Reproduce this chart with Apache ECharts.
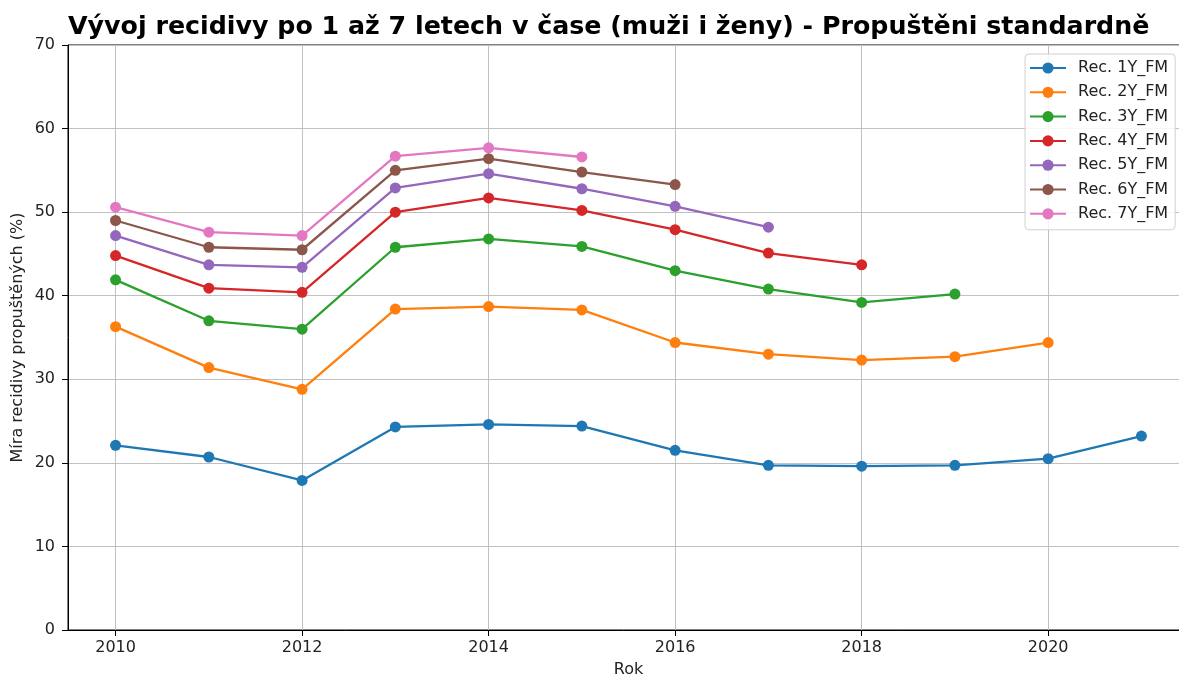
<!DOCTYPE html>
<html>
<head>
<meta charset="utf-8">
<script src="https://cdn.jsdelivr.net/npm/echarts@6/dist/echarts.min.js"></script>
<style>
html,body{margin:0;padding:0;background:#fff;}
#chart{width:1179px;height:677px;}
</style>
</head>
<body>
<div id="chart"></div>
<script>
const years = [2010, 2011, 2012, 2013, 2014, 2015, 2016, 2017, 2018, 2019, 2020, 2021];
const xTicks = [2010, 2012, 2014, 2016, 2018, 2020];
const seriesNames = ['Rec. 1Y_FM', 'Rec. 2Y_FM', 'Rec. 3Y_FM', 'Rec. 4Y_FM', 'Rec. 5Y_FM', 'Rec. 6Y_FM', 'Rec. 7Y_FM'];
const rec1Y = [22.1, 20.7, 17.9, 24.3, 24.6, 24.4, 21.5, 19.7, 19.6, 19.7, 20.5, 23.2];
const rec2Y = [36.3, 31.4, 28.8, 38.4, 38.7, 38.3, 34.4, 33.0, 32.3, 32.7, 34.4];
const rec3Y = [41.9, 37.0, 36.0, 45.8, 46.8, 45.9, 43.0, 40.8, 39.2, 40.2];
const rec4Y = [44.8, 40.9, 40.4, 50.0, 51.7, 50.2, 47.9, 45.1, 43.7];
const rec5Y = [47.2, 43.7, 43.4, 52.9, 54.6, 52.8, 50.7, 48.2];
const rec6Y = [49.0, 45.8, 45.5, 55.0, 56.4, 54.8, 53.3];
const rec7Y = [50.6, 47.6, 47.2, 56.7, 57.7, 56.6];
const colors = ['#1f77b4', '#ff7f0e', '#2ca02c', '#d62728', '#9467bd', '#8c564b', '#e377c2'];

const allValues = [rec1Y, rec2Y, rec3Y, rec4Y, rec5Y, rec6Y, rec7Y];
const FONT = 'DejaVu Sans';

const series = allValues.map((vals, i) => ({
  name: seriesNames[i],
  type: 'line',
  data: vals.map((v, j) => [years[j], v]),
  symbol: 'circle',
  symbolSize: 11,
  showSymbol: true,
  lineStyle: { width: 2.3, color: colors[i] },
  itemStyle: { color: colors[i] },
  emphasis: { disabled: true },
  animation: false
}));

const chart = echarts.init(document.getElementById('chart'), null, { renderer: 'canvas' });
chart.setOption({
  animation: false,
  backgroundColor: '#fff',
  color: colors,
  title: {
    text: 'Vývoj recidivy po 1 až 7 letech v čase (muži i ženy) - Propuštěni standardně',
    left: 63,
    top: 10,
    textStyle: { fontFamily: FONT, fontSize: 25.3, fontWeight: 'bold', color: '#000' }
  },
  grid: { left: 68, top: 45, width: 1121, height: 585, outerBoundsMode: 'none', containLabel: false, show: true, borderColor: '#000', borderWidth: 1, backgroundColor: 'transparent' },
  legend: {
    orient: 'vertical',
    left: 1025,
    top: 54,
    padding: [6, 7, 8, 4],
    itemWidth: 36,
    itemHeight: 14,
    itemGap: 8.3,
    backgroundColor: 'rgba(255,255,255,0.85)',
    borderColor: '#d0d0d0',
    borderWidth: 1,
    borderRadius: 4,
    textStyle: { fontFamily: FONT, fontSize: 16, color: '#222', padding: [0, 0, 0, 7] },
    data: seriesNames
  },
  xAxis: {
    type: 'value',
    min: 2009.49,
    max: 2021.51,
    name: 'Rok',
    nameLocation: 'middle',
    nameGap: 32,
    nameMoveOverlap: false,
    nameTextStyle: { fontFamily: FONT, fontSize: 16, color: '#222' },
    axisLine: { show: true, onZero: false, lineStyle: { color: '#000', width: 1 } },
    axisTick: { show: true, length: 6, lineStyle: { color: '#000' }, customValues: xTicks },
    axisLabel: { fontFamily: FONT, fontSize: 16, color: '#222', margin: 10, customValues: xTicks, formatter: v => String(v) },
    splitLine: { show: true, lineStyle: { color: '#c0c0c0', width: 1 } }
  },
  yAxis: {
    type: 'value',
    min: 0,
    max: 70,
    interval: 10,
    name: 'Míra recidivy propuštěných (%)',
    nameLocation: 'middle',
    nameGap: 42,
    nameMoveOverlap: false,
    nameTextStyle: { fontFamily: FONT, fontSize: 16, color: '#222' },
    axisLine: { show: true, lineStyle: { color: '#000', width: 1 } },
    axisTick: { show: true, length: 6, lineStyle: { color: '#000' } },
    axisLabel: { fontFamily: FONT, fontSize: 16, color: '#222', margin: 13 },
    splitLine: { show: true, lineStyle: { color: '#c0c0c0', width: 1 } }
  },
  series: series
});
</script>
</body>
</html>
